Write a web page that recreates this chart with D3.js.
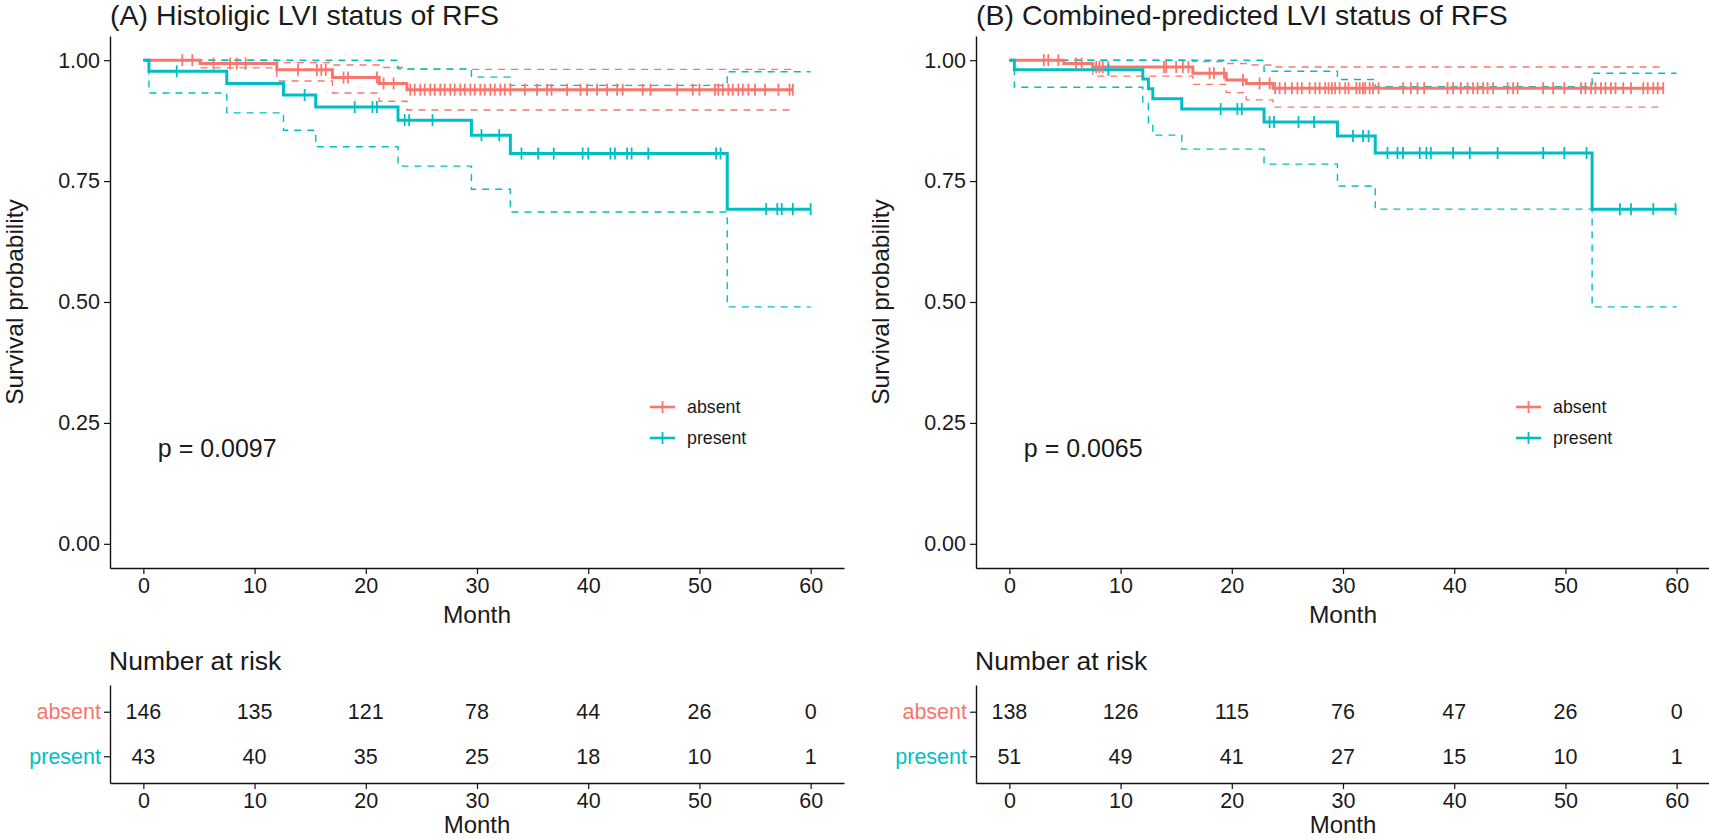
<!DOCTYPE html>
<html>
<head>
<meta charset="utf-8">
<script src="https://cdn.jsdelivr.net/npm/d3@7"></script>
<style>
body { margin: 0; background: #fff; }
svg { display: block; font-family: "Liberation Sans", Arial, sans-serif; }
</style>
</head>
<body>
<svg id="chart" width="1709" height="839"></svg>
<script>
'use strict';

// shared axis values
var months = [0, 10, 20, 30, 40, 50, 60];
var yTicks = [0, 0.25, 0.5, 0.75, 1];
var groups = ['absent', 'present'];
var groupColor = { absent: '#F8766D', present: '#00BFC4' };

// (A) histologic LVI - absent
var aAbsentTime  = [0, 5.1, 12.0, 17.0, 21.2, 23.7];
var aAbsentSurv  = [1, 0.993, 0.980, 0.964, 0.952, 0.939];
var aAbsentUpper = [1, 1, 0.995, 0.990, 0.985, 0.981];
var aAbsentLower = [1, 0.984, 0.957, 0.932, 0.915, 0.897];
var aAbsentEnd = 58.4;
var aAbsentCensor = [3.5, 4.4, 6.3, 7.8, 8.4, 9.2, 13.9, 15.6, 16.0, 16.4, 18.0, 18.4, 21.0, 21.6, 22.5,
  24.0, 24.4, 24.9, 25.3, 25.8, 26.2, 26.7, 27.1, 27.6, 28.0, 28.5, 28.9, 29.4, 29.8, 30.3, 30.7,
  31.2, 31.6, 32.1, 32.5, 33.0, 34.3, 35.4, 36.3, 36.7, 38.1, 39.3, 39.9, 40.8, 41.7, 42.6, 43.1,
  44.9, 45.6, 48.0, 49.4, 50.0, 51.4, 51.7, 52.1, 52.6, 53.0, 53.5, 53.9, 54.4, 55.0, 55.9, 57.1, 58.1, 58.4];

// (A) histologic LVI - present
var aPresentTime  = [0, 0.5, 7.5, 12.6, 15.5, 22.9, 29.5, 33.0, 52.5];
var aPresentSurv  = [1, 0.977, 0.952, 0.928, 0.903, 0.876, 0.845, 0.807, 0.692];
var aPresentUpper = [1, 1, 1, 1, 1, 0.982, 0.965, 0.948, 0.976];
var aPresentLower = [1, 0.932, 0.891, 0.855, 0.821, 0.781, 0.733, 0.686, 0.49];
var aPresentEnd = 60;
var aPresentCensor = [3.0, 14.5, 19.0, 20.6, 21.0, 23.5, 23.9, 26.0, 30.4, 32.0, 34.0, 35.5, 36.9, 39.5,
  40.0, 42.0, 42.4, 43.5, 43.9, 45.4, 51.5, 51.9, 56.0, 57.0, 57.4, 58.4, 60.0];

// (B) combined-predicted LVI - absent
var bAbsentTime  = [0, 4.9, 7.5, 16.5, 19.5, 21.3, 23.7];
var bAbsentSurv  = [1, 0.993, 0.986, 0.973, 0.959, 0.952, 0.942];
var bAbsentUpper = [1, 1, 1, 0.997, 0.993, 0.990, 0.986];
var bAbsentLower = [1, 0.980, 0.967, 0.950, 0.933, 0.918, 0.903];
var bAbsentEnd = 58.8;
var bAbsentCensor = [3.1, 3.5, 4.4, 6.0, 6.5, 7.8, 8.1, 8.4, 8.9, 13.9, 14.1, 15.0, 15.6, 16.1, 18.0, 18.4,
  19.3, 21.0, 22.5, 23.4, 23.9, 24.3, 24.8, 25.4, 25.9, 26.3, 27.0, 27.5, 27.9, 28.4, 28.7, 29.0, 29.3,
  29.7, 30.2, 30.5, 31.2, 31.5, 31.8, 32.0, 32.4, 32.7, 33.2, 35.4, 36.1, 36.7, 37.3, 39.4, 39.9, 40.6,
  41.2, 41.7, 42.1, 42.6, 43.0, 43.5, 44.8, 45.3, 45.7, 48.0, 48.9, 49.9, 51.4, 51.8, 52.3, 52.7, 53.2,
  53.6, 54.1, 54.5, 55.2, 55.9, 57.0, 57.4, 57.9, 58.3, 58.8];

// (B) combined-predicted LVI - present
var bPresentTime  = [0, 0.45, 12.0, 12.5, 12.9, 15.5, 22.9, 29.5, 32.9, 52.4];
var bPresentSurv  = [1, 0.980, 0.961, 0.941, 0.920, 0.899, 0.872, 0.843, 0.808, 0.692];
var bPresentUpper = [1, 1, 1, 1, 1, 1, 0.977, 0.960, 0.945, 0.973];
var bPresentLower = [1, 0.944, 0.911, 0.870, 0.845, 0.816, 0.785, 0.740, 0.692, 0.49];
var bPresentEnd = 60;
var bPresentCensor = [8.9, 19.0, 20.5, 20.9, 23.4, 23.8, 26.0, 27.4, 30.9, 31.8, 32.3, 34.0, 34.9, 35.4,
  36.9, 37.5, 37.9, 39.9, 41.4, 43.9, 48.0, 49.9, 51.9, 54.9, 55.9, 57.9, 59.9];

// number at risk
var aRiskAbsent  = [146, 135, 121, 78, 44, 26, 0];
var aRiskPresent = [43, 40, 35, 25, 18, 10, 1];
var bRiskAbsent  = [138, 126, 115, 76, 47, 26, 0];
var bRiskPresent = [51, 49, 41, 27, 15, 10, 1];

function curve(time, surv, upper, lower, end, censor) {
  return { time: time, surv: surv, upper: upper, lower: lower, end: end, censor: censor };
}

var panels = [
  { title: '(A) Histoligic LVI status of RFS', pval: 'p = 0.0097', left: 110,
    series: { absent: curve(aAbsentTime, aAbsentSurv, aAbsentUpper, aAbsentLower, aAbsentEnd, aAbsentCensor),
              present: curve(aPresentTime, aPresentSurv, aPresentUpper, aPresentLower, aPresentEnd, aPresentCensor) },
    risk: { absent: aRiskAbsent, present: aRiskPresent } },
  { title: '(B) Combined-predicted LVI status of RFS', pval: 'p = 0.0065', left: 976,
    series: { absent: curve(bAbsentTime, bAbsentSurv, bAbsentUpper, bAbsentLower, bAbsentEnd, bAbsentCensor),
              present: curve(bPresentTime, bPresentSurv, bPresentUpper, bPresentLower, bPresentEnd, bPresentCensor) },
    risk: { absent: bRiskAbsent, present: bRiskPresent } }
];

var svg = d3.select('#chart');
var plotW = 734;
var textCol = '#1a1a1a';

function stepPoints(s, key) {
  var pts = s.time.map(function (t, i) { return [t, s[key][i]]; });
  pts.push([s.end, s[key][s[key].length - 1]]);
  return pts;
}

function survAt(s, t) {
  var i = d3.bisectRight(s.time, t) - 1;
  return s.surv[Math.max(0, i)];
}

function styleAxis(ax, size) {
  ax.select('.domain').attr('stroke', '#111').attr('stroke-width', 1.4);
  ax.selectAll('.tick line').attr('stroke', '#111').attr('stroke-width', 1.2);
  ax.selectAll('.tick text').attr('fill', textCol).style('font-size', size + 'px');
}

panels.forEach(function (p) {
  var g = svg.append('g');
  var x = d3.scaleLinear().domain([-3, 63]).range([p.left, p.left + plotW]);
  var y = d3.scaleLinear().domain([-0.05, 1.05]).range([568, 36]);

  // title
  g.append('text').attr('x', p.left).attr('y', 25)
    .attr('fill', textCol).style('font-size', '28.5px').text(p.title);

  // axes
  var ay = g.append('g').attr('transform', 'translate(' + p.left + ',0)')
    .call(d3.axisLeft(y).tickValues(yTicks).tickFormat(d3.format('.2f')).tickSize(6).tickPadding(4).tickSizeOuter(0));
  styleAxis(ay, 21.5);
  var ax = g.append('g').attr('transform', 'translate(0,568)')
    .call(d3.axisBottom(x).tickValues(months).tickSize(6).tickPadding(4).tickSizeOuter(0));
  styleAxis(ax, 21.5);

  g.append('text').attr('x', p.left + plotW / 2).attr('y', 623).attr('text-anchor', 'middle')
    .attr('fill', textCol).style('font-size', '24.5px').text('Month');
  g.append('text').attr('transform', 'translate(' + (p.left - 87) + ',302) rotate(-90)')
    .attr('text-anchor', 'middle').attr('fill', textCol).style('font-size', '24.5px').text('Survival probability');

  var line = d3.line().x(function (d) { return x(d[0]); }).y(function (d) { return y(d[1]); })
    .curve(d3.curveStepAfter);

  // confidence bands
  groups.forEach(function (k) {
    var s = p.series[k];
    ['upper', 'lower'].forEach(function (key) {
      g.append('path').attr('d', line(stepPoints(s, key)))
        .attr('fill', 'none').attr('stroke', groupColor[k]).attr('stroke-width', 1.4)
        .attr('stroke-dasharray', '7,6');
    });
  });
  // survival curves
  groups.forEach(function (k) {
    g.append('path').attr('d', line(stepPoints(p.series[k], 'surv')))
      .attr('fill', 'none').attr('stroke', groupColor[k]).attr('stroke-width', 3);
  });
  // censor marks
  groups.forEach(function (k) {
    var s = p.series[k];
    g.append('g').selectAll('line').data(s.censor).join('line')
      .attr('x1', function (d) { return x(d); }).attr('x2', function (d) { return x(d); })
      .attr('y1', function (d) { return y(survAt(s, d)) - 6; })
      .attr('y2', function (d) { return y(survAt(s, d)) + 6; })
      .attr('stroke', groupColor[k]).attr('stroke-width', 1.8);
  });

  // p value
  g.append('text').attr('x', x(1.3)).attr('y', 457)
    .attr('fill', textCol).style('font-size', '25px').text(p.pval);

  // legend
  var lg = g.append('g').attr('transform', 'translate(' + (p.left + 540) + ',407)');
  groups.forEach(function (k, i) {
    var row = lg.append('g').attr('transform', 'translate(0,' + (i * 31) + ')');
    row.append('line').attr('x1', 0).attr('x2', 25).attr('stroke', groupColor[k]).attr('stroke-width', 2.6);
    row.append('line').attr('x1', 12.5).attr('x2', 12.5).attr('y1', -6).attr('y2', 6)
      .attr('stroke', groupColor[k]).attr('stroke-width', 1.8);
    row.append('text').attr('x', 37).attr('dy', '0.35em').attr('fill', textCol)
      .style('font-size', '17.8px').text(k);
  });

  // risk table
  var yr = d3.scalePoint().domain(groups).range([685, 783]).padding(0.6);
  g.append('text').attr('x', p.left - 1).attr('y', 670)
    .attr('fill', textCol).style('font-size', '26.5px').text('Number at risk');
  var ry = g.append('g').attr('transform', 'translate(' + p.left + ',0)')
    .call(d3.axisLeft(yr).tickSize(6).tickPadding(3).tickSizeOuter(0));
  styleAxis(ry, 21.5);
  ry.selectAll('.tick text').attr('fill', function (d) { return groupColor[d]; });
  var rx = g.append('g').attr('transform', 'translate(0,783)')
    .call(d3.axisBottom(x).tickValues(months).tickSize(6).tickPadding(4).tickSizeOuter(0));
  styleAxis(rx, 21.5);
  g.append('text').attr('x', p.left + plotW / 2).attr('y', 833).attr('text-anchor', 'middle')
    .attr('fill', textCol).style('font-size', '24px').text('Month');

  groups.forEach(function (k) {
    g.append('g').selectAll('text').data(p.risk[k]).join('text')
      .attr('x', function (d, i) { return x(months[i]); })
      .attr('y', yr(k)).attr('dy', '0.35em').attr('text-anchor', 'middle')
      .attr('fill', textCol).style('font-size', '21.5px')
      .text(function (d) { return d; });
  });
});
</script>
</body>
</html>
